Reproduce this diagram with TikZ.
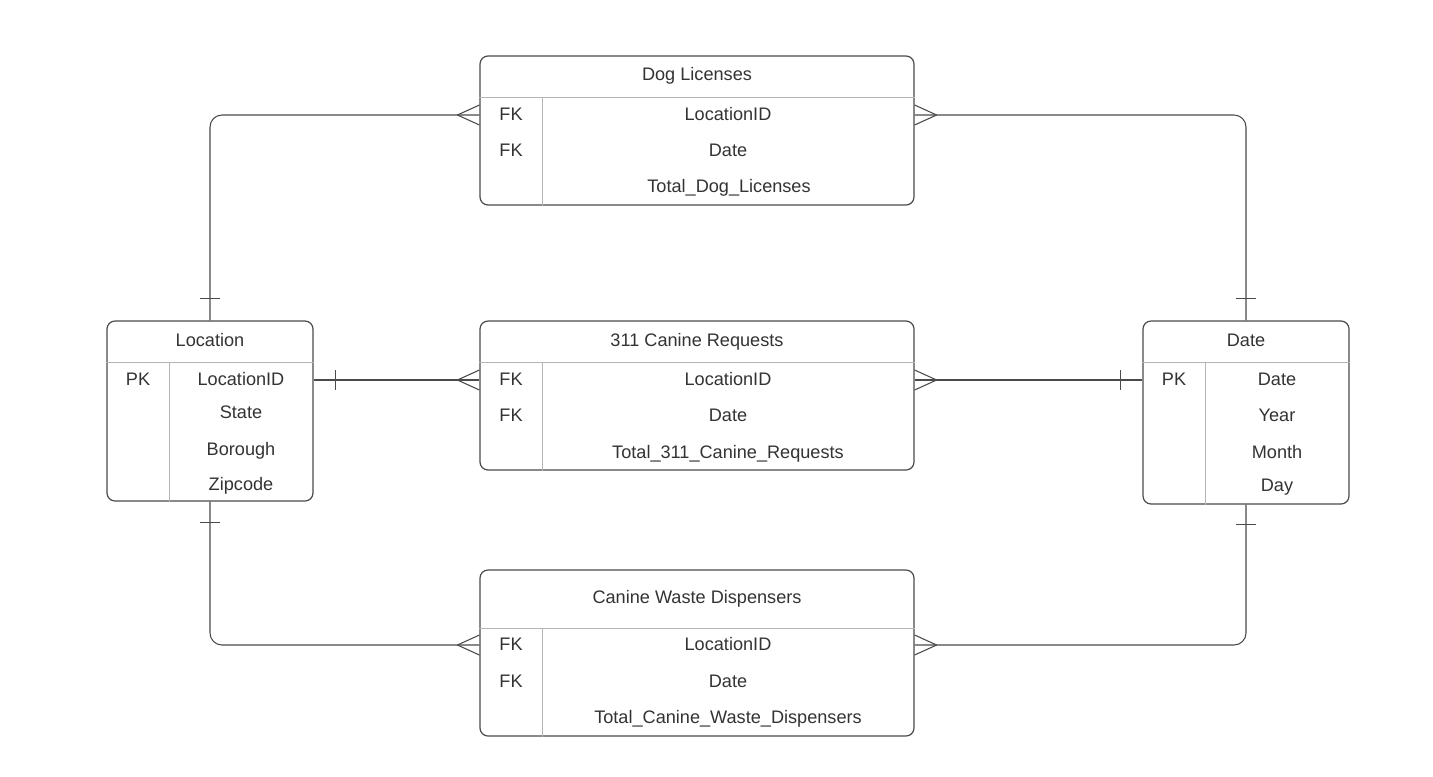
\documentclass[tikz,border=0pt]{standalone}
\usepackage{fontspec}
\setmainfont{Liberation Sans}
\usetikzlibrary{calc}
\definecolor{txt}{HTML}{333333}
\definecolor{bord}{HTML}{4A4A4A}
\definecolor{inl}{HTML}{B4B4B4}
\begin{document}
\begin{tikzpicture}[x={(0.75pt,0)},y={(0,-0.75pt)},
  tbl/.style={draw=bord, line width=0.9pt, rounded corners=6pt, inner sep=0pt, minimum width=325.5pt},
  inner/.style={draw=inl, line width=0.7pt},
  lbl/.style={text=txt, font=\fontsize{13.6}{15}\selectfont, inner sep=0pt, text height=1.8ex, text depth=0.2ex},
  conn/.style={draw=bord, line width=0.8pt}]
\useasboundingbox[fill=white] (0,0) rectangle (1433,776);

% ---------- tables ----------
\node[tbl, minimum height=111.75pt] (dog) at (697,130.5) {};
\node[tbl, minimum height=111.75pt] (req) at (697,395.5) {};
\node[tbl, minimum height=124.5pt] (waste) at (697,653) {};
\node[tbl, minimum width=154.5pt, minimum height=135pt] (loc) at (210,411) {};
\node[tbl, minimum width=154.5pt, minimum height=137.25pt] (date) at (1246,412.5) {};

% inner lines
\draw[inner] (dog.west |- 0,97) -- (dog.east |- 0,97);
\draw[inner] (542,97) -- (dog.south -| 542,0);
\draw[inner] (req.west |- 0,362) -- (req.east |- 0,362);
\draw[inner] (542,362) -- (req.south -| 542,0);
\draw[inner] (waste.west |- 0,628) -- (waste.east |- 0,628);
\draw[inner] (542,628) -- (waste.south -| 542,0);
\draw[inner] (loc.west |- 0,362) -- (loc.east |- 0,362);
\draw[inner] (169,362) -- (loc.south -| 169,0);
\draw[inner] (date.west |- 0,362) -- (date.east |- 0,362);
\draw[inner] (1205,362) -- (date.south -| 1205,0);

% ---------- texts ----------
\node[lbl] (dogh) at (697,75) {Dog Licenses};
\node[lbl] (dogk1) at (511,115) {FK};
\node[lbl] (dogr1) at (728,115) {LocationID};
\node[lbl] (dogk2) at (511,151) {FK};
\node[lbl] (dogr2) at (728,151) {Date};
\node[lbl] (dogr3) at (729,187) {Total\_Dog\_Licenses};

\node[lbl] (reqh) at (697,341) {311 Canine Requests};
\node[lbl] (reqk1) at (511,380) {FK};
\node[lbl] (reqr1) at (728,380) {LocationID};
\node[lbl] (reqk2) at (511,416) {FK};
\node[lbl] (reqr2) at (728,416) {Date};
\node[lbl] (reqr3) at (728,453) {Total\_311\_Canine\_Requests};

\node[lbl] (wasteh) at (697,598) {Canine Waste Dispensers};
\node[lbl] (wastek1) at (511,645) {FK};
\node[lbl] (waster1) at (728,645) {LocationID};
\node[lbl] (wastek2) at (511,682) {FK};
\node[lbl] (waster2) at (728,682) {Date};
\node[lbl] (waster3) at (728,718) {Total\_Canine\_Waste\_Dispensers};

\node[lbl] (loch) at (210,341) {Location};
\node[lbl] (lock1) at (138,380) {PK};
\node[lbl] (locr1) at (241,380) {LocationID};
\node[lbl] (locr2) at (241,413) {State};
\node[lbl] (locr3) at (241,450) {Borough};
\node[lbl] (locr4) at (241,485) {Zipcode};

\node[lbl] (dateh) at (1246,341) {Date};
\node[lbl] (datek1) at (1174,380) {PK};
\node[lbl] (dater1) at (1277,380) {Date};
\node[lbl] (dater2) at (1277,416) {Year};
\node[lbl] (dater3) at (1277,453) {Month};
\node[lbl] (dater4) at (1277,486) {Day};

% ---------- connectors ----------
% Location -> Dog Licenses
\draw[conn, rounded corners=9pt] (loc.north) |- (dog.west |- dogr1);
\draw[conn] ($(loc.north)+(-10,-22)$) -- ++(20,0);
\draw[conn] ($(dog.west |- dogr1)+(-22,0)$) -- ++(22,-10);
\draw[conn] ($(dog.west |- dogr1)+(-22,0)$) -- ++(22,10);
% Dog Licenses -> Date
\draw[conn, rounded corners=9pt] (dog.east |- dogr1) -| (date.north);
\draw[conn] ($(date.north)+(-10,-22)$) -- ++(20,0);
\draw[conn] ($(dog.east |- dogr1)+(22,0)$) -- ++(-22,-10);
\draw[conn] ($(dog.east |- dogr1)+(22,0)$) -- ++(-22,10);
% Location -> 311
\draw[conn] (loc.east |- reqr1) -- (req.west |- reqr1);
\draw[conn] ($(loc.east |- reqr1)+(22,-10)$) -- ++(0,20);
\draw[conn] ($(req.west |- reqr1)+(-22,0)$) -- ++(22,-10);
\draw[conn] ($(req.west |- reqr1)+(-22,0)$) -- ++(22,10);
% 311 -> Date
\draw[conn] (req.east |- reqr1) -- (date.west |- reqr1);
\draw[conn] ($(date.west |- reqr1)+(-22,-10)$) -- ++(0,20);
\draw[conn] ($(req.east |- reqr1)+(22,0)$) -- ++(-22,-10);
\draw[conn] ($(req.east |- reqr1)+(22,0)$) -- ++(-22,10);
% Location -> Waste
\draw[conn, rounded corners=9pt] (loc.south) |- (waste.west |- waster1);
\draw[conn] ($(loc.south)+(-10,21)$) -- ++(20,0);
\draw[conn] ($(waste.west |- waster1)+(-22,0)$) -- ++(22,-10);
\draw[conn] ($(waste.west |- waster1)+(-22,0)$) -- ++(22,10);
% Waste -> Date
\draw[conn, rounded corners=9pt] (waste.east |- waster1) -| (date.south);
\draw[conn] ($(date.south)+(-10,20)$) -- ++(20,0);
\draw[conn] ($(waste.east |- waster1)+(22,0)$) -- ++(-22,-10);
\draw[conn] ($(waste.east |- waster1)+(22,0)$) -- ++(-22,10);
\end{tikzpicture}
\end{document}
